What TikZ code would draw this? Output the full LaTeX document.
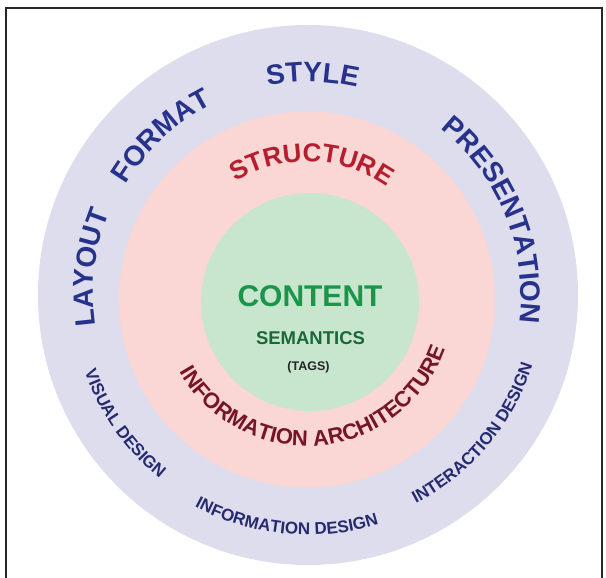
\documentclass[tikz,border=0pt]{standalone}
\usepackage{fontspec}
\setmainfont{Liberation Sans}
\usetikzlibrary{decorations.text}

\definecolor{ringlavender}{RGB}{221,221,237}
\definecolor{ringpink}{RGB}{250,214,212}
\definecolor{ringgreen}{RGB}{200,230,206}
\definecolor{outerblue}{RGB}{38,50,140}
\definecolor{smallblue}{RGB}{38,42,112}
\definecolor{structred}{RGB}{180,30,46}
\definecolor{archred}{RGB}{118,20,40}
\definecolor{contentgreen}{RGB}{26,150,74}
\definecolor{semgreen}{RGB}{26,104,58}

\newcommand\wordbig{\fontsize{28}{30}\selectfont\bfseries}
\newcommand\wordsmall{\fontsize{17}{19}\selectfont\bfseries}

\tikzset{
  ringtext/.style={decorate, decoration={text along path, text align=center, text={#1}}},
  centretext/.style={anchor=base, inner sep=0pt, font=\bfseries},
}

\begin{document}
\begin{tikzpicture}[x=1pt,y=1pt]
\useasboundingbox (-308,-283) rectangle (298,295);

% frame
\draw[line width=2pt, black!85] (-302,-290) -- (-302,286.5) -- (294,286.5) -- (294,-290);

% rings
\fill[ringlavender] (0,0) circle[radius=270pt];
\fill[ringpink] (-1,-4.5) circle[radius=188pt];
\fill[ringgreen] (2,-7) circle[radius=109pt];

% outer words, reading clockwise
\path[ringtext={|\wordbig\color{outerblue}|LAYOUT}] (212.9:215pt) arc[start angle=212.9, end angle=132.9, radius=215pt];
\path[ringtext={|\wordbig\color{outerblue}|FORMAT}] (172.7:213pt) arc[start angle=172.7, end angle=92.7, radius=213pt];
\path[ringtext={|\wordbig\color{outerblue}|STYLE}] (148.8:213pt) arc[start angle=148.8, end angle=28.8, radius=213pt];
\path[ringtext={|\wordbig\color{outerblue}|PRESENTATION}] (67:213pt) arc[start angle=67, end angle=-23, radius=213pt];

% outer words, reading anticlockwise
\path[ringtext={|\wordsmall\color{smallblue}|VISUAL DESIGN}] (175:236pt) arc[start angle=175, end angle=255, radius=236pt];
\path[ringtext={|\wordsmall\color{smallblue}|INFORMATION DESIGN}] (219.5:240pt) arc[start angle=219.5, end angle=309.5, radius=240pt];
\path[ringtext={|\wordsmall\color{smallblue}|INTERACTION DESIGN}] (275:235pt) arc[start angle=275, end angle=365, radius=235pt];

% middle ring
\begin{scope}[shift={(-1,-4.5)}]
\path[ringtext={|\fontsize{26}{28}\selectfont\bfseries\color{structred}|STRUCTURE}] (150:138pt) arc[start angle=150, end angle=26, radius=138pt];
\path[ringtext={|\fontsize{22}{24}\selectfont\bfseries\color{archred}|INFORMATION ARCHITECTURE}] (185:146.5pt) arc[start angle=185, end angle=365, radius=146.5pt];
\end{scope}

% core
\node[centretext, font=\fontsize{30}{32}\selectfont\bfseries, text=contentgreen] (content) at (2,-12) {CONTENT};
\node[centretext, font=\fontsize{18.5}{20}\selectfont\bfseries, text=semgreen] (semantics) at (2.5,-50) {SEMANTICS};
\node[centretext, font=\fontsize{12.5}{14}\selectfont\bfseries, text=black!85] (tags) at (0.5,-76) {(TAGS)};

\end{tikzpicture}
\end{document}
